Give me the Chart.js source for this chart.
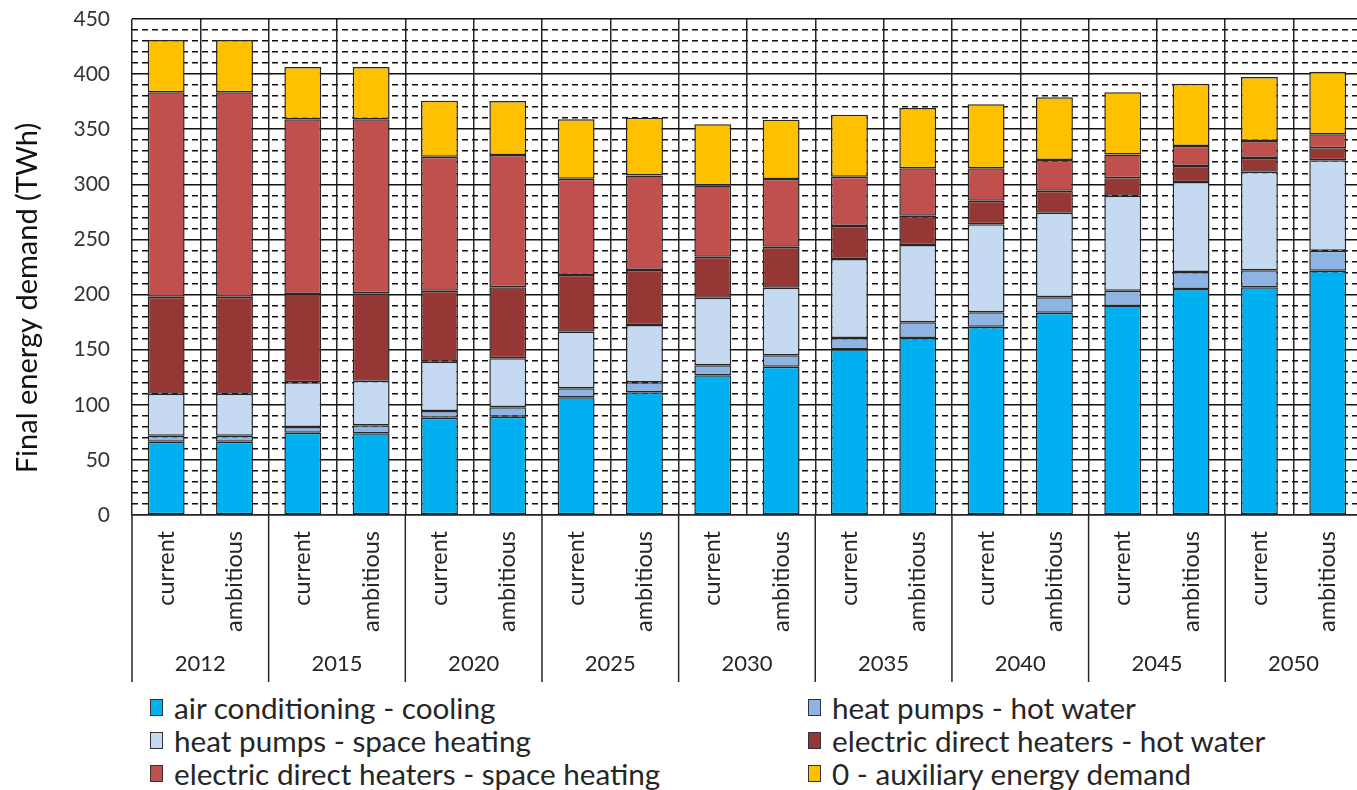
<!DOCTYPE html>
<html>
<head>
<meta charset="utf-8">
<script src="https://cdn.jsdelivr.net/npm/chart.js@4.4.0/dist/chart.umd.min.js"></script>
<style>
  html, body { margin: 0; padding: 0; background: #fff; overflow: hidden; }
  #wrap { position: relative; width: 1357px; height: 790px; overflow: hidden; }
  #chart { position: absolute; left: 0; top: 0; }
  #legend { position: absolute; left: 0; top: 0; font-family: Lato, sans-serif; font-size: 29.7px; color: #262626; }
  .item { position: absolute; display: flex; align-items: center; white-space: nowrap; height: 30px; }
  .box { width: 13px; height: 17px; border: 1px solid #333; margin-right: 11px; box-sizing: border-box; }
</style>
</head>
<body>
<div id="wrap">
  <canvas id="chart" width="1372" height="690"></canvas>
  <div id="legend"></div>
</div>
<script>
// Data
const years = ['2012', '2015', '2020', '2025', '2030', '2035', '2040', '2045', '2050'];
const scenarios = ['current', 'ambitious'];
const categories = years.flatMap(() => scenarios);

const cooling = [66.5, 66.5, 74.7, 74.1, 88.3, 89.2, 106.8, 111.3, 126.7, 134.6, 150.3, 160.6, 170.9, 183.6, 189.6, 205.0, 206.6, 221.7];
const hpHotWater = [5.5, 5.5, 5.1, 7.3, 6.1, 8.5, 8.2, 9.1, 9.1, 10.3, 10.3, 14.2, 13.0, 13.9, 13.9, 15.5, 15.4, 18.1];
const hpSpaceHeating = [38.0, 38.0, 40.6, 40.5, 44.7, 44.5, 51.3, 52.0, 61.4, 61.3, 71.7, 70.2, 79.8, 76.8, 86.2, 81.6, 89.5, 82.0];
const edhHotWater = [88.0, 88.0, 80.1, 79.2, 64.4, 64.4, 51.4, 49.9, 37.2, 37.2, 29.9, 26.5, 21.5, 19.9, 15.8, 14.5, 12.4, 10.9];
const edhSpaceHeating = [185.5, 185.5, 158.5, 157.9, 121.6, 120.0, 87.4, 85.7, 64.6, 61.4, 44.7, 43.0, 29.3, 27.8, 21.5, 18.2, 15.4, 12.7];
const auxiliary = [47.5, 47.5, 47.5, 47.5, 50.8, 49.0, 53.9, 52.5, 55.5, 53.9, 56.3, 54.8, 58.1, 56.9, 56.5, 56.5, 58.1, 56.8];

const seriesNames = [
  'air conditioning - cooling',
  'heat pumps - hot water',
  'heat pumps - space heating',
  'electric direct heaters - hot water',
  'electric direct heaters - space heating',
  '0 - auxiliary energy demand'
];
const seriesValues = [cooling, hpHotWater, hpSpaceHeating, edhHotWater, edhSpaceHeating, auxiliary];
const seriesColors = ['#00B0F0', '#8DB4E2', '#C5D9F1', '#953735', '#C0504D', '#FFC000'];

const FONT = 'Lato, sans-serif';
const LINE = '#262626';

// y title + year separators below the axis
const extras = {
  id: 'extras',
  afterDraw(chart) {
    const { ctx, chartArea, scales } = chart;
    const x = scales.x;
    const half = (x.getPixelForValue(1) - x.getPixelForValue(0)) / 2;
    ctx.save();
    ctx.strokeStyle = LINE;
    ctx.lineWidth = 1.5;
    for (let i = 0; i <= years.length; i++) {
      const px = i < years.length ? x.getPixelForValue(i * 2) - half : x.getPixelForValue(i * 2 - 1) + half;
      ctx.beginPath();
      ctx.moveTo(px, chartArea.bottom);
      ctx.lineTo(px, 682);
      ctx.stroke();
    }
    ctx.translate(28, 298);
    ctx.rotate(-Math.PI / 2);
    ctx.fillStyle = '#111';
    ctx.font = '29px ' + FONT;
    ctx.textAlign = 'center';
    ctx.textBaseline = 'middle';
    ctx.fillText('Final energy demand (TWh)', 0, 0);
    ctx.restore();
  }
};

new Chart(document.getElementById('chart'), {
  type: 'bar',
  data: {
    labels: categories,
    datasets: seriesNames.map((name, i) => ({
      label: name,
      data: seriesValues[i],
      backgroundColor: seriesColors[i],
      borderColor: '#262626',
      borderWidth: 1.5,
      borderSkipped: false,
      barPercentage: 0.54,
      categoryPercentage: 1,
      xAxisID: 'x',
      yAxisID: 'y'
    }))
  },
  options: {
    responsive: false,
    animation: false,
    layout: { padding: { top: 19, right: 2.5, left: 0, bottom: 0 } },
    plugins: { legend: { display: false }, tooltip: { enabled: false } },
    scales: {
      x: {
        stacked: true,
        weight: 0,
        grid: { offset: true, color: LINE, lineWidth: 1.5, drawTicks: false },
        border: { color: LINE, width: 1.5 },
        ticks: { minRotation: 90, maxRotation: 90, padding: 16, color: '#262626', font: { family: FONT, size: 23.5 } },
        afterFit: s => { s.height = 135; }
      },
      x2: {
        type: 'category',
        axis: 'x',
        position: 'bottom',
        weight: 1,
        labels: years,
        offset: true,
        grid: { display: false, drawTicks: false },
        border: { display: false },
        ticks: { padding: 1, color: '#262626', font: { family: FONT, size: 22 } },
        afterFit: s => { s.height = 40; }
      },
      y: {
        stacked: true,
        min: 0,
        max: 450,
        grid: {
          color: '#111',
          lineWidth: 1.6,
          drawTicks: false
        },
        border: {
          display: false,
          dash: ctx => (ctx.tick && ctx.tick.value % 50 === 0) ? [] : [6, 4]
        },
        ticks: {
          stepSize: 10,
          autoSkip: false,
          padding: 22,
          color: '#333',
          font: { family: FONT, size: 21 },
          callback: v => (v % 50 === 0 ? v : '')
        },
        afterFit: s => { s.width = 132; s.paddingTop = 0; s.paddingBottom = 0; }
      }
    }
  },
  plugins: [extras]
});

// HTML legend, two columns
const legend = document.getElementById('legend');
const cols = [150, 808];
const rows = [692, 725, 758];
seriesNames.forEach((name, i) => {
  const el = document.createElement('div');
  el.className = 'item';
  el.style.left = cols[i % 2] + 'px';
  el.style.top = rows[Math.floor(i / 2)] + 'px';
  const box = document.createElement('span');
  box.className = 'box';
  box.style.background = seriesColors[i];
  el.appendChild(box);
  el.appendChild(document.createTextNode(name));
  legend.appendChild(el);
});
</script>
</body>
</html>
